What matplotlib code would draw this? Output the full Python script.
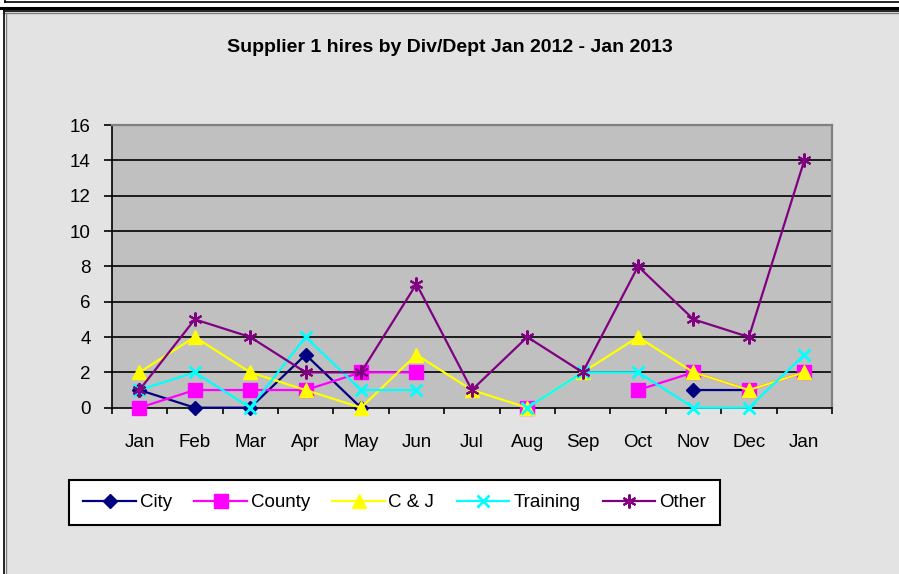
import matplotlib
matplotlib.use('Agg')
import matplotlib.pyplot as plt
from matplotlib.patches import Rectangle
import numpy as np

nan = np.nan
months = ['Jan', 'Feb', 'Mar', 'Apr', 'May', 'Jun', 'Jul', 'Aug', 'Sep', 'Oct', 'Nov', 'Dec', 'Jan']
city = [1, 0, 0, 3, 0, nan, nan, nan, nan, nan, 1, 1, nan]
county = [0, 1, 1, 1, 2, 2, nan, 0, nan, 1, 2, 1, 2]
cj = [2, 4, 2, 1, 0, 3, 1, 0, 2, 4, 2, 1, 2]
training = [1, 2, 0, 4, 1, 1, nan, 0, 2, 2, 0, 0, 3]
other = [1, 5, 4, 2, 2, 7, 1, 4, 2, 8, 5, 4, 14]
yticks = [0, 2, 4, 6, 8, 10, 12, 14, 16]

plt.rcParams['font.family'] = ['Liberation Sans', 'DejaVu Sans']

W, H = 899, 574
fig = plt.figure(figsize=(W / 100, H / 100), dpi=100, facecolor='white')

# background frame in pixel coords
bg = fig.add_axes([0, 0, 1, 1])
bg.set_xlim(0, W)
bg.set_ylim(H, 0)
bg.axis('off')
bg.add_patch(Rectangle((6, 11), W - 6, H - 11, facecolor='#e3e3e3', edgecolor='none'))
bg.plot([5, W], [1.5, 1.5], color='black', lw=1.2)
bg.plot([5, 5], [0, 1.5], color='black', lw=1.2)
bg.plot([0, W], [8, 8], color='black', lw=2.2)
bg.plot([4, W], [11, 11], color='black', lw=1.2)
bg.plot([4, W], [12.5, 12.5], color='#808080', lw=1.0)
bg.plot([4, 4], [11, H], color='black', lw=1.2)
bg.plot([6, 6], [12.5, H], color='#808080', lw=1.0)

x0, x1, yt, yb = 111.7, 832, 125, 407.7
ax = fig.add_axes([x0 / W, (H - yb) / H, (x1 - x0) / W, (yb - yt) / H])
ax.set_facecolor('#c0c0c0')
x = np.arange(len(months))

series = [
    ('City', city, '#000080', 'D', 7, 1),
    ('County', county, '#ff00ff', 's', 9.5, 1),
    ('C & J', cj, '#ffff00', '^', 9.5, 1),
    ('Training', training, '#00ffff', 'x', 8, 2),
    ('Other', other, '#800080', (6, 2, 0), 10, 1.5),
]
for name, vals, col, mk, ms, mew in series:
    ax.plot(x, vals, color=col, lw=1.6, marker=mk, markersize=ms,
            markerfacecolor=col, markeredgecolor=col, markeredgewidth=mew,
            label=name, clip_on=False, zorder=3)

ax.set_xlim(-0.5, len(months) - 0.5)
ax.set_ylim(0, 16)
ax.set_yticks(yticks)
ax.set_xticks(x)
ax.set_xticklabels(months)
ax.set_xticks(np.arange(len(months) + 1) - 0.5, minor=True)
ax.tick_params(axis='y', length=6, width=1.2, pad=9, labelsize=13.5, direction='out')
ax.tick_params(axis='x', which='major', length=0, pad=19, labelsize=13.5)
ax.tick_params(axis='x', which='minor', length=4.5, width=1.2, direction='out')
for y in yticks[1:-1]:
    ax.axhline(y, color='black', lw=1.2, zorder=1)
ax.spines['left'].set_linewidth(1.2)
ax.spines['bottom'].set_linewidth(1.2)
for s in ['top', 'right']:
    ax.spines[s].set_color('#808080')
    ax.spines[s].set_linewidth(1.6)

fig.text(450 / W, (H - 48) / H, 'Supplier 1 hires by Div/Dept Jan 2012 - Jan 2013',
         ha='center', va='center', fontsize=14, fontweight='bold')

leg = fig.legend(loc='center', bbox_to_anchor=(394.5 / W, (H - 502.5) / H), ncol=5,
                 fontsize=13.5, frameon=True, fancybox=False, handlelength=2.8,
                 handletextpad=0.2, columnspacing=1.2, borderpad=0.75)
leg.get_frame().set_edgecolor('black')
leg.get_frame().set_linewidth(1.5)
leg.get_frame().set_facecolor('white')
leg.get_frame().set_alpha(1)

fig.savefig('out.png', dpi=100, facecolor='white')
